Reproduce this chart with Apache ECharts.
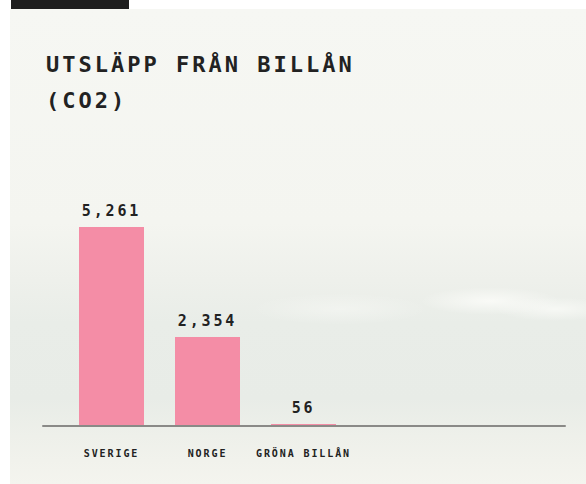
<!DOCTYPE html>
<html>
<head>
<meta charset="utf-8">
<script src="https://cdn.jsdelivr.net/npm/echarts@6/dist/echarts.min.js"></script>
<style>
  html, body { margin: 0; padding: 0; background: #fff; }
  .page { position: relative; width: 586px; height: 484px; overflow: hidden; }
  .tab { position: absolute; left: 11px; top: 0; width: 118px; height: 9px; background: #1e1e1e; }
  .card {
    position: absolute; left: 10px; top: 9px; right: 0; bottom: 0;
    background:
      radial-gradient(ellipse 70px 14px at 480px 292px, rgba(255,255,252,0.7), rgba(255,255,252,0)),
      radial-gradient(ellipse 60px 12px at 545px 300px, rgba(255,255,252,0.6), rgba(255,255,252,0)),
      radial-gradient(ellipse 90px 16px at 330px 300px, rgba(255,255,252,0.35), rgba(255,255,252,0)),
      linear-gradient(to bottom, #f6f7f3 0%, #f4f5f0 45%, #eef0eb 57%, #e9ede8 66%, #e8ece7 82%, #eef0ea 90%, #f4f4ee 100%);
  }
  .chart-title {
    position: absolute; left: 46px; top: 47px; width: 330px; margin: 0;
    font-family: "DejaVu Sans Mono", monospace; font-weight: bold;
    font-size: 22px; line-height: 36px; letter-spacing: 3px; color: #222;
  }
  #chart { position: absolute; left: 0; top: 0; width: 586px; height: 484px; }
  #chart text { letter-spacing: 0.19em; }
</style>
</head>
<body>
<div class="page">
  <div class="tab"></div>
  <div class="card"></div>
  <h2 class="chart-title">UTSLÄPP FRÅN BILLÅN (CO2)</h2>
  <div id="chart"></div>
</div>
<script>
// data
const categories = ['SVERIGE', 'NORGE', 'GRÖNA BILLÅN'];
const values = [5261, 2354, 56];
const yMax = 6000;

const myChart = echarts.init(document.getElementById('chart'), null, { renderer: 'svg' });

const option = {
  backgroundColor: 'transparent',
  animation: false,
  grid: [
    { left: 63.5, width: 288, top: 199, bottom: 58 },
    // wider grid only for the base line
    { left: 43, right: 21, top: 199, bottom: 58 }
  ],
  xAxis: [
    {
      type: 'category',
      gridIndex: 0,
      data: categories,
      axisLine: { show: false },
      axisTick: { show: false },
      axisLabel: {
        margin: 22,
        color: '#222',
        fontFamily: 'DejaVu Sans Mono',
        fontWeight: 'bold',
        fontSize: 10
      }
    },
    {
      type: 'category',
      gridIndex: 1,
      data: categories,
      z: 5,
      axisLine: { show: true, lineStyle: { color: '#8a8a87', width: 2 } },
      axisTick: { show: false },
      axisLabel: { show: false }
    }
  ],
  yAxis: [
    { type: 'value', gridIndex: 0, min: 0, max: yMax, show: false },
    { type: 'value', gridIndex: 1, min: 0, max: yMax, show: false }
  ],
  series: [
    {
      type: 'bar',
      xAxisIndex: 0,
      yAxisIndex: 0,
      data: values,
      barWidth: 65,
      itemStyle: { color: '#f48da6' },
      label: {
        show: true,
        position: 'top',
        distance: 8,
        color: '#222',
        fontFamily: 'DejaVu Sans Mono',
        fontWeight: 'bold',
        fontSize: 15,
        formatter: function (p) {
          return p.value.toLocaleString('en-US');
        }
      }
    }
  ]
};

myChart.setOption(option);
</script>
</body>
</html>
